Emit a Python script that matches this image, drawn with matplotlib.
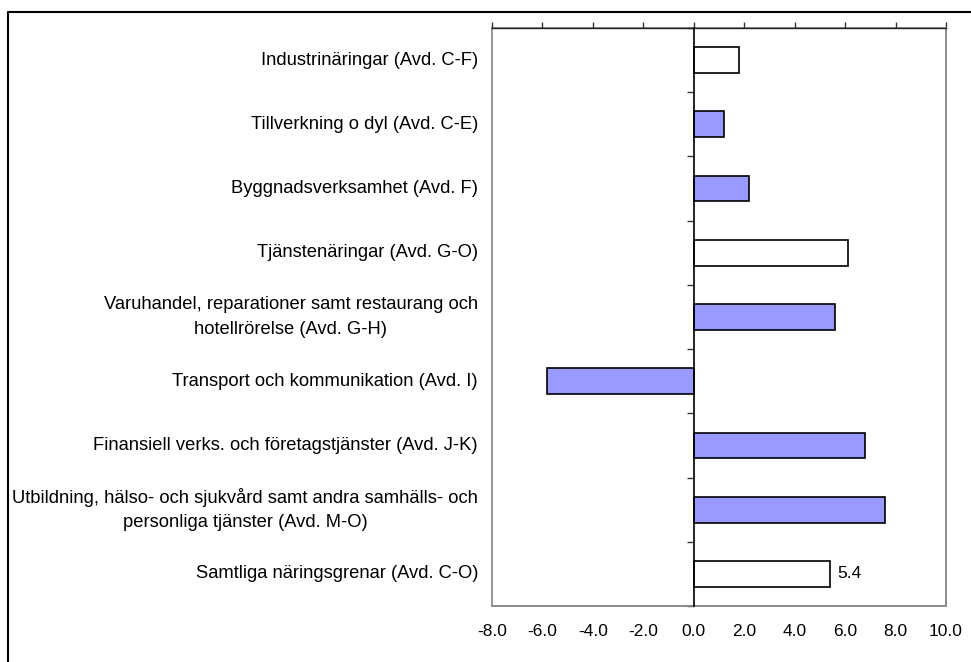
import matplotlib
matplotlib.use("Agg")
import matplotlib.pyplot as plt
from matplotlib.lines import Line2D
from matplotlib.patches import Rectangle

plt.rcParams['font.family'] = ['Liberation Sans', 'DejaVu Sans']

categories = [
    "Industrinäringar (Avd. C-F)",
    "Tillverkning o dyl (Avd. C-E)",
    "Byggnadsverksamhet (Avd. F)",
    "Tjänstenäringar (Avd. G-O)",
    "Varuhandel, reparationer samt restaurang och\nhotellrörelse (Avd. G-H)",
    "Transport och kommunikation (Avd. I)",
    "Finansiell verks. och företagstjänster (Avd. J-K)",
    "Utbildning, hälso- och sjukvård samt andra samhälls- och\npersonliga tjänster (Avd. M-O)",
    "Samtliga näringsgrenar (Avd. C-O)",
]
values = [1.8, 1.2, 2.2, 6.1, 5.6, -5.8, 6.8, 7.6, 5.4]
is_total = [True, False, False, True, False, False, False, False, True]
xticks = [-8, -6, -4, -2, 0, 2, 4, 6, 8, 10]
xticklabels = ["-8.0", "-6.0", "-4.0", "-2.0", "0.0", "2.0", "4.0", "6.0", "8.0", "10.0"]
label_value = "5.4"

W, H = 971, 662
fig = plt.figure(figsize=(W / 100, H / 100), dpi=100)
fig.patch.set_facecolor('white')

# outer frame (top and left only visible)
fig.add_artist(Line2D([8 / W, 8 / W, 1], [0, 1 - 12 / H, 1 - 12 / H],
                      transform=fig.transFigure, color='black', lw=1.5))

ax = fig.add_axes([492 / W, 1 - 606 / H, (946 - 492) / W, (606 - 28) / H])

ypos = list(range(len(categories)))
colors = ['white' if t else '#9999FF' for t in is_total]
ax.barh(ypos, values, height=0.4, color=colors, edgecolor='black', linewidth=1.2, zorder=3)

ax.set_xlim(-8, 10)
ax.set_ylim(len(categories) - 0.5, -0.5)

# frame
for s in ['bottom', 'right']:
    ax.spines[s].set_color('#8c8c8c')
    ax.spines[s].set_linewidth(1.3)
ax.spines['top'].set_color('#222222')
ax.spines['top'].set_linewidth(1.0)
ax.add_patch(Rectangle((0, 0), 1, 1, transform=ax.transAxes, fill=False,
                       edgecolor='#8c8c8c', lw=1.3, zorder=0, clip_on=False))
ax.spines['left'].set_position(('data', 0))
ax.spines['left'].set_color('black')
ax.spines['left'].set_linewidth(1.2)
ax.spines['left'].set_zorder(4)

# x axis: ticks at top, labels at bottom
ax.set_xticks(xticks)
ax.set_xticklabels(xticklabels)
ax.tick_params(axis='x', top=True, bottom=False, labeltop=False, labelbottom=True,
               direction='out', length=4, width=1, color='#333333',
               labelsize=12.5, pad=9)

# y axis: tick marks at category boundaries, no labels
bounds = [i - 0.5 for i in range(len(categories) + 1)]
ax.set_yticks(bounds)
ax.set_yticklabels([])
ax.tick_params(axis='y', left=True, right=False, direction='out', length=5,
               width=1, color='#333333')

# category labels
for y, lab in zip(ypos, categories):
    ax.annotate(lab, xy=(0, y), xycoords=('axes fraction', 'data'),
                xytext=(-14, 0), textcoords='offset pixels',
                ha='right', va='center', multialignment='center',
                fontsize=13.2, linespacing=1.55)

# value label for the last bar
ax.annotate(label_value, xy=(values[-1], ypos[-1]), xycoords='data',
            xytext=(7, 0), textcoords='offset pixels', ha='left', va='center',
            fontsize=12.5)

fig.savefig('out.png', dpi=100, facecolor='white')
